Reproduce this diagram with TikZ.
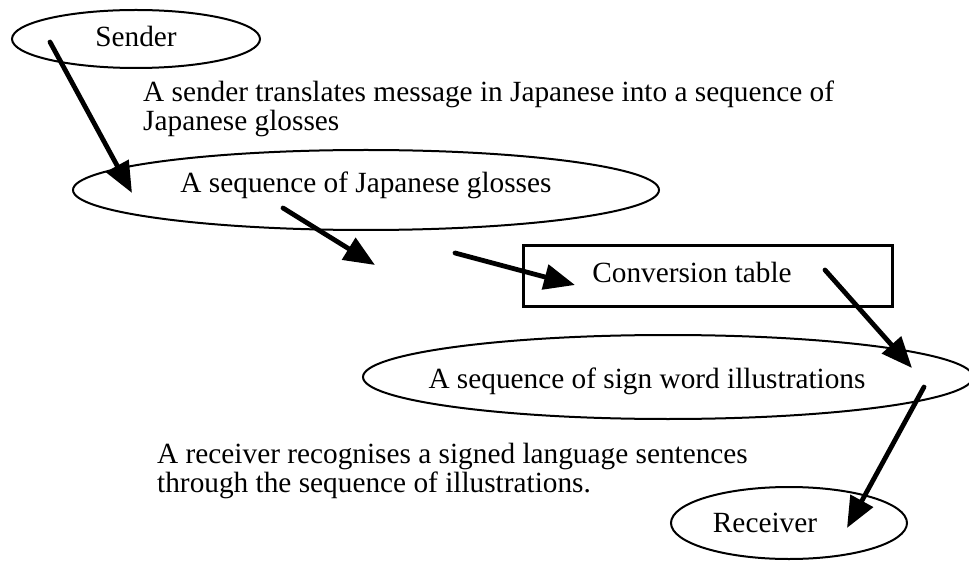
\documentclass[tikz,border=0pt]{standalone}
\usepackage{fontspec}
\setmainfont{Liberation Serif}
\usetikzlibrary{shapes.geometric,arrows.meta}
\begin{document}
\begin{tikzpicture}[x=1pt,y=-1pt,
  oval/.style={draw, line width=2pt, ellipse, inner sep=0pt},
  boxnode/.style={draw, line width=2.2pt, rectangle, inner sep=0pt},
  lbl/.style={font=\fontsize{29.3}{33}\selectfont, inner sep=0pt, anchor=base},
  note/.style={font=\fontsize{29.3}{33}\selectfont, inner sep=0pt, anchor=base west},
  flow/.style={line width=4.8pt, line cap=round, -{Triangle[length=31pt,width=25pt]}}]
\useasboundingbox (0,0) rectangle (969,561);

% outlines
\node[oval, minimum width=248pt, minimum height=58pt] (sender) at (136,39) {};
\node[oval, minimum width=586pt, minimum height=80pt] (glosses) at (366,190) {};
\node[boxnode, minimum width=369pt, minimum height=61pt] (table) at (708,276) {};
\node[oval, minimum width=610pt, minimum height=84pt] (signs) at (668,377) {};
\node[oval, minimum width=236pt, minimum height=72pt] (receiver) at (789,523) {};

% labels
\node[lbl] (senderlbl) at (136,47) {Sender};
\node[lbl] (glosseslbl) at (366,193) {A sequence of Japanese glosses};
\node[lbl] (tablelbl) at (692,283) {Conversion table};
\node[lbl] (signslbl) at (647,388) {A sequence of sign word illustrations};
\node[lbl] (receiverlbl) at (765,532) {Receiver};

% explanatory captions
\node[note] (capa1) at (143,102) {A sender translates message in Japanese into a sequence of};
\node[note] (capa2) at (143,131) {Japanese glosses};
\node[note] (capb1) at (157,463) {A receiver recognises a signed language sentences};
\node[note] (capb2) at (157,492) {through the sequence of illustrations.};

% arrow end points
\coordinate (s1) at (50,42);   \coordinate (e1) at (132,193);
\coordinate (s2) at (283,208); \coordinate (e2) at (375,265);
\coordinate (s3) at (455,253); \coordinate (e3) at (575,285);
\coordinate (s4) at (825,270); \coordinate (e4) at (912,368);
\coordinate (s5) at (924,387); \coordinate (e5) at (847,528);

\draw[flow] (s1) -- (e1);
\draw[flow] (s2) -- (e2);
\draw[flow] (s3) -- (e3);
\draw[flow] (s4) -- (e4);
\draw[flow] (s5) -- (e5);
\end{tikzpicture}
\end{document}
